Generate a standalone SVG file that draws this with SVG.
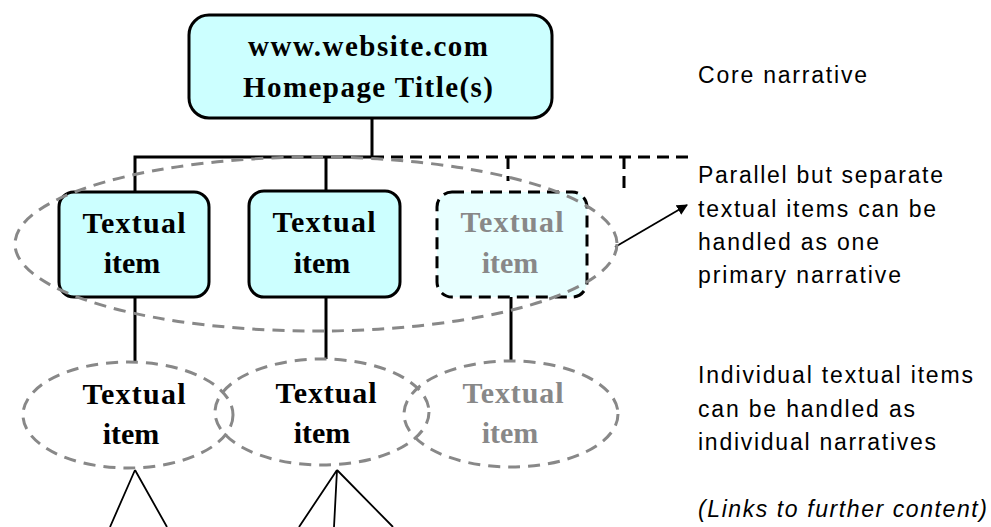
<svg xmlns="http://www.w3.org/2000/svg" width="991" height="527" viewBox="0 0 991 527">
  <defs>
    <style>
      .box { fill: #ccffff; stroke: #000; stroke-width: 3; }
      .box-ghost { fill: #e8ffff; stroke: #000; stroke-width: 3; stroke-dasharray: 12 7; }
      .oval { fill: none; stroke: #888; stroke-width: 3; stroke-dasharray: 12 8; }
      .tree { fill: none; stroke: #000; stroke-width: 3; }
      .tree-dash { fill: none; stroke: #000; stroke-width: 3; stroke-dasharray: 12 7; }
      .link { fill: none; stroke: #000; stroke-width: 1.8; }
      .lbl { font-family: "Liberation Serif", "Times New Roman", serif; font-weight: bold; font-size: 30px; fill: #000; text-anchor: middle; }
      .lbl.ghost { fill: #888; }
      .title { font-family: "Liberation Serif", "Times New Roman", serif; font-weight: bold; font-size: 29px; fill: #000; text-anchor: middle; }
      .note { font-family: "Liberation Sans", Arial, sans-serif; font-size: 23px; fill: #000; }
      .note.it { font-style: italic; }
    </style>
    <marker id="arrow" viewBox="0 0 10 10" refX="9" refY="5" markerWidth="11" markerHeight="11" markerUnits="userSpaceOnUse" orient="auto">
      <path d="M0,0 L10,5 L0,10 z" fill="#000"/>
    </marker>
  </defs>

  <rect width="991" height="527" fill="#fff"/>

  <!-- connectors -->
  <g id="connectors">
    <path class="tree" d="M372,118 V157 H135 V192"/>
    <path class="tree" d="M326,157 V191"/>
    <path class="tree-dash" d="M372,157 H692"/>
    <path class="tree-dash" d="M508,157 V181"/>
    <path class="tree-dash" d="M624,157 V192"/>
    <path class="tree" d="M135,297 V363"/>
    <path class="tree" d="M326,297 V359"/>
    <path class="tree" d="M511,297 V361"/>
    <path class="link" d="M135,470 L110,527 M135,470 L167,527"/>
    <path class="link" d="M337,470 L299,527 M337,470 L334,527 M337,470 L393,527"/>
    <path class="link" d="M615,247 L687,205" marker-end="url(#arrow)"/>
  </g>

  <!-- core narrative -->
  <g id="homepage">
    <rect class="box" x="189" y="15" width="363" height="103" rx="20" ry="20"/>
    <text class="title" x="368" y="56" textLength="240" lengthAdjust="spacing">www.website.com</text>
    <text class="title" x="368" y="97" textLength="250" lengthAdjust="spacing">Homepage Title(s)</text>
  </g>

  <!-- primary level items -->
  <g id="item-1">
    <rect class="box" x="59" y="192" width="150" height="105" rx="15" ry="15"/>
    <text class="lbl" x="134" y="233" textLength="103" lengthAdjust="spacing">Textual</text>
    <text class="lbl" x="132" y="273">item</text>
  </g>
  <g id="item-2">
    <rect class="box" x="249" y="191" width="151" height="106" rx="15" ry="15"/>
    <text class="lbl" x="324" y="232" textLength="103" lengthAdjust="spacing">Textual</text>
    <text class="lbl" x="322" y="273">item</text>
  </g>
  <g id="item-3">
    <rect class="box-ghost" x="437" y="192" width="150" height="105" rx="15" ry="15"/>
    <text class="lbl ghost" x="512" y="232" textLength="103" lengthAdjust="spacing">Textual</text>
    <text class="lbl ghost" x="510" y="273">item</text>
  </g>

  <!-- grouping of the parallel items -->
  <g id="primary-group">
    <ellipse class="oval" cx="316" cy="244" rx="301" ry="87"/>
  </g>

  <!-- individual narratives -->
  <g id="narrative-1">
    <ellipse class="oval" cx="128" cy="415" rx="105" ry="53"/>
    <text class="lbl" x="134" y="404" textLength="103" lengthAdjust="spacing">Textual</text>
    <text class="lbl" x="131" y="444">item</text>
  </g>
  <g id="narrative-2">
    <ellipse class="oval" cx="322" cy="412" rx="107" ry="53"/>
    <text class="lbl" x="326" y="403" textLength="101" lengthAdjust="spacing">Textual</text>
    <text class="lbl" x="322" y="443">item</text>
  </g>
  <g id="narrative-3">
    <ellipse class="oval" cx="511" cy="414" rx="107" ry="53"/>
    <text class="lbl ghost" x="513" y="403" textLength="101" lengthAdjust="spacing">Textual</text>
    <text class="lbl ghost" x="510" y="443">item</text>
  </g>

  <!-- side notes -->
  <g id="notes">
    <text class="note" x="698" y="83" textLength="169" lengthAdjust="spacing">Core narrative</text>
    <text class="note" x="698" y="183" textLength="245" lengthAdjust="spacing">Parallel but separate</text>
    <text class="note" x="698" y="217" textLength="238" lengthAdjust="spacing">textual items can be</text>
    <text class="note" x="698" y="250" textLength="181" lengthAdjust="spacing">handled as one</text>
    <text class="note" x="698" y="283" textLength="203" lengthAdjust="spacing">primary narrative</text>
    <text class="note" x="698" y="383" textLength="275" lengthAdjust="spacing">Individual textual items</text>
    <text class="note" x="698" y="417" textLength="217" lengthAdjust="spacing">can be handled as</text>
    <text class="note" x="698" y="450" textLength="238" lengthAdjust="spacing">individual narratives</text>
    <text class="note it" x="698" y="517" textLength="289" lengthAdjust="spacing">(Links to further content)</text>
  </g>
</svg>
